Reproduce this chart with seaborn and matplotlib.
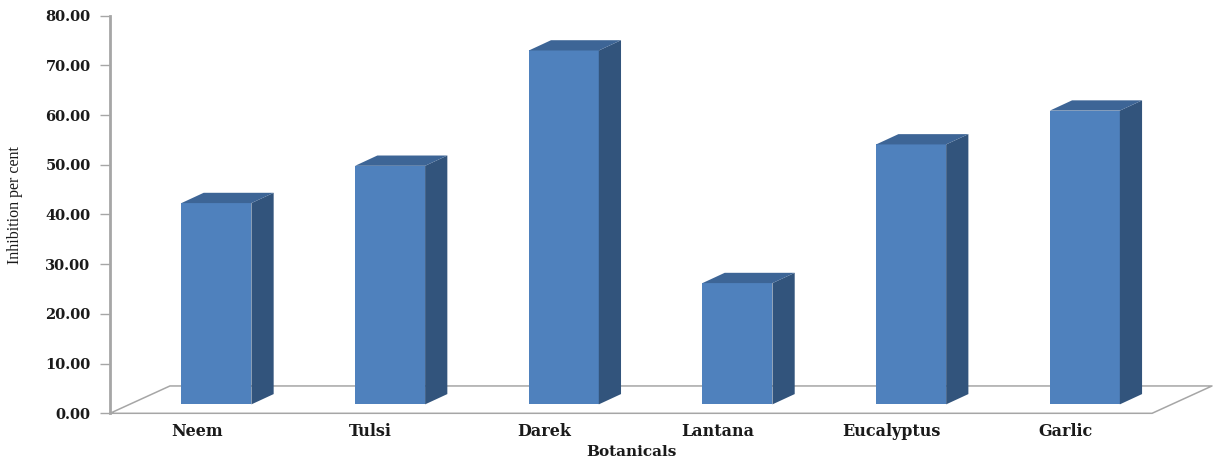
import matplotlib
matplotlib.use("Agg")
import matplotlib.pyplot as plt
import seaborn as sns
from matplotlib.patches import Polygon
from matplotlib.lines import Line2D

# ---- data ----
categories = ["Neem", "Tulsi", "Darek", "Lantana", "Eucalyptus", "Garlic"]
values = [40.5, 48.0, 71.2, 24.4, 52.3, 59.1]
yticks = [0, 10, 20, 30, 40, 50, 60, 70, 80]
ytick_labels = ["%.2f" % v for v in yticks]
xlabel = "Botanicals"
ylabel = "Inhibition per cent"

# ---- style ----
FRONT = "#4F81BD"
TOP = "#3D6596"
SIDE = "#32547C"
GRAY = "#A6A6A6"

sns.set_theme(style="white")
plt.rcParams["font.family"] = ["DejaVu Serif", "DejaVu Sans"]

fig = plt.figure(figsize=(12.16, 4.62), dpi=100)
ax = fig.add_axes([110 / 1216, (462 - 413.3) / 462, 1102 / 1216, 397.6 / 462])

bar_w = 0.403
sns.barplot(x=categories, y=values, width=bar_w, color=FRONT, saturation=1,
            ax=ax, zorder=3, edgecolor="none", linewidth=0)

# 3-D geometry (in data units)
floor_dx, floor_dy = 0.345, 5.5        # floor depth
front_frac = 0.327                      # depth position of bar front face
bar_dx, bar_dy = 0.128, 2.07            # bar depth
base = front_frac * floor_dy
shift = front_frac * floor_dx

n = len(categories)
# floor
x0, x1 = -0.5, n - 0.5
floor = [(x0, 0), (x1, 0), (x1 + floor_dx, floor_dy), (x0 + floor_dx, floor_dy), (x0, 0)]
ax.add_line(Line2D([p[0] for p in floor], [p[1] for p in floor], color=GRAY,
                   lw=1.1, zorder=1, clip_on=False))

for p in ax.patches[:n]:
    p.set_x(p.get_x() + shift)
    p.set_y(base)
    p.set_clip_on(False)
    xl = p.get_x()
    xr = xl + p.get_width()
    yb = p.get_y()
    yt = yb + p.get_height()
    side = Polygon([(xr, yb), (xr + bar_dx, yb + bar_dy), (xr + bar_dx, yt + bar_dy), (xr, yt)],
                   closed=True, facecolor=SIDE, edgecolor="none", zorder=3, clip_on=False)
    top = Polygon([(xl, yt), (xr, yt), (xr + bar_dx, yt + bar_dy), (xl + bar_dx, yt + bar_dy)],
                  closed=True, facecolor=TOP, edgecolor="none", zorder=3, clip_on=False)
    ax.add_patch(side)
    ax.add_patch(top)

ax.set_xlim(-0.5, n - 0.5 + floor_dx)
ax.set_ylim(0, 80)

ax.set_yticks(yticks)
ax.set_yticklabels(ytick_labels, fontsize=10.5, fontweight="bold", color="#1a1a1a")
ax.tick_params(axis="y", direction="out", length=7, width=1, color=GRAY, pad=7, left=True)
ax.set_xticks(range(n))
ax.set_xticklabels(categories, fontsize=11.5, fontweight="bold", color="#1a1a1a")
ax.tick_params(axis="x", length=0, pad=7)

for s in ["top", "right", "bottom"]:
    ax.spines[s].set_visible(False)
ax.spines["left"].set_color(GRAY)
ax.spines["left"].set_linewidth(2)
ax.grid(False)

ax.set_xlabel(xlabel, fontsize=11, fontweight="bold", color="#1a1a1a", va="center")
ax.xaxis.set_label_coords((2.5 + 0.5) / (n + floor_dx), (413.3 - 451.7) / 397.6)
ax.set_ylabel(ylabel, fontsize=11.5, family=["Liberation Serif", "DejaVu Serif"],
              color="#1a1a1a", va="center")
ax.yaxis.set_label_coords((15 - 110) / 1102, (413.3 - 205) / 397.6)

fig.savefig("out.png", dpi=100, facecolor="white")
